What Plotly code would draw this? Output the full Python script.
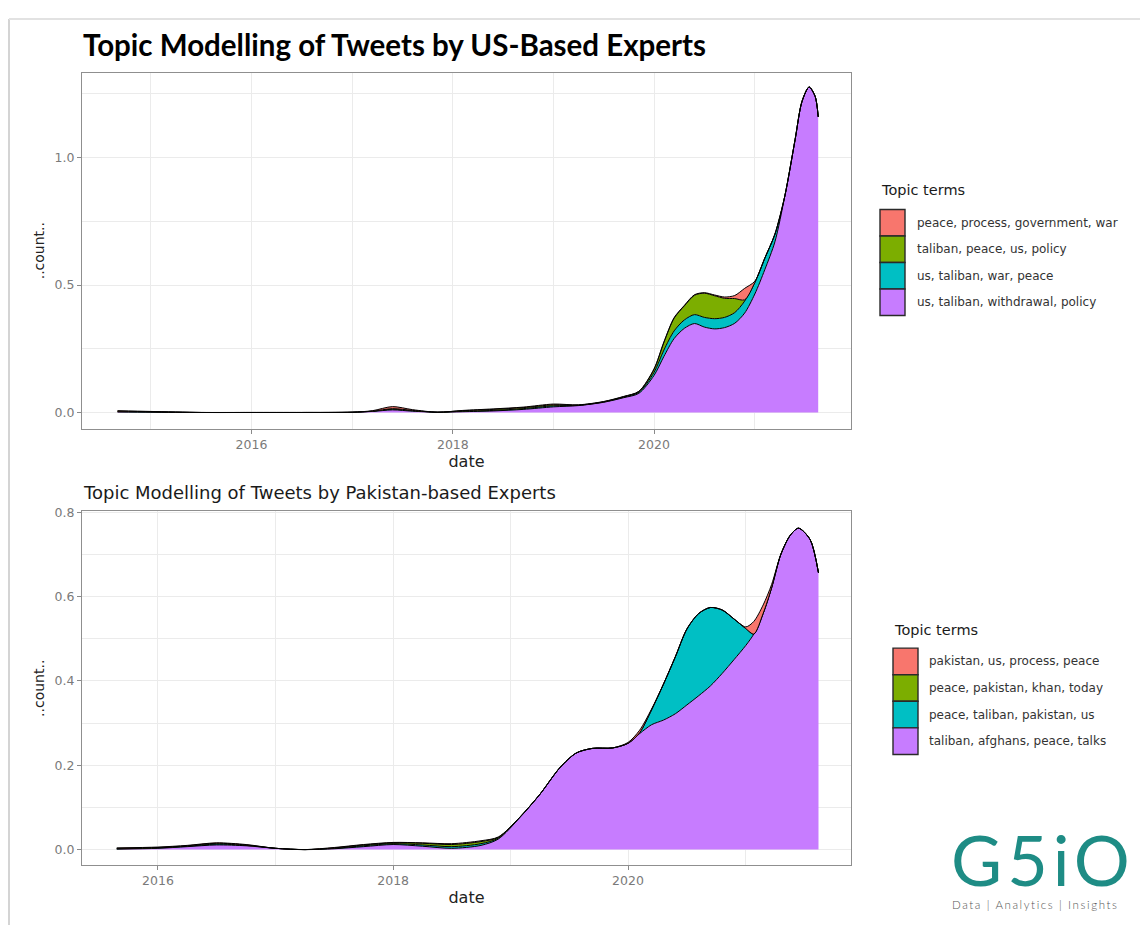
import plotly.graph_objects as go

# ---------------- data ----------------
us_dates = ["2014-09-02", "2015-01-01", "2015-07-02", "2016-01-01", "2016-07-01", "2017-01-01",
            "2017-03-15", "2017-05-27", "2017-08-08", "2017-11-07", "2018-02-06", "2018-05-27",
            "2018-09-13", "2019-01-01", "2019-04-02", "2019-07-02", "2019-09-13", "2019-11-07",
            "2020-01-01", "2020-02-06", "2020-03-14", "2020-04-20", "2020-05-27", "2020-07-02",
            "2020-08-08", "2020-09-13", "2020-10-20", "2020-11-25", "2021-01-01", "2021-02-06",
            "2021-03-15", "2021-04-20", "2021-05-27", "2021-06-21", "2021-07-17", "2021-08-08",
            "2021-08-19"]
us_terms = ["peace, process, government, war", "taliban, peace, us, policy",
            "us, taliban, war, peace", "us, taliban, withdrawal, policy"]
us_peace_process = [0.002, 0.001, 0, 0, 0, 0, 0.002, 0.008, 0.003, 0, 0.001, 0.002,
                    0.002, 0.003, 0.001, 0.001, 0.001, 0.001, 0.002, 0.002, 0.002, 0.002, 0.002, 0.002,
                    0.003, 0.005, 0.012, 0.045, 0.005, 0, 0, 0, 0, 0, 0, 0, 0]
us_taliban_peace = [0.002, 0.001, 0, 0, 0, 0, 0, 0.002, 0.001, 0, 0.002, 0.004,
                    0.004, 0.004, 0.001, 0.001, 0.002, 0.003, 0.012, 0.03, 0.05, 0.055, 0.076, 0.095,
                    0.09, 0.075, 0.055, 0.005, 0, 0, 0, 0, 0, 0, 0, 0, 0]
us_us_taliban_war = [0.001, 0.001, 0, 0, 0, 0, 0.001, 0.003, 0.002, 0, 0.002, 0.002,
                     0.003, 0.004, 0.001, 0.001, 0.002, 0.004, 0.012, 0.025, 0.03, 0.033, 0.035, 0.038,
                     0.04, 0.04, 0.042, 0.047, 0.045, 0.045, 0.03, 0, 0, 0, 0, 0, 0]
us_withdrawal = [0.002, 0.001, 0.0, 0.0, 0.0, 0.001, 0.004, 0.01, 0.005, 0.001, 0.003, 0.006,
                 0.012, 0.022, 0.027, 0.04, 0.058, 0.075, 0.145, 0.22, 0.29, 0.33, 0.349, 0.335,
                 0.328, 0.333, 0.35, 0.39, 0.465, 0.56, 0.67, 0.85, 1.07, 1.22, 1.277, 1.24,
                 1.16]

pk_dates = ["2015-08-26", "2016-01-01", "2016-04-01", "2016-07-01", "2016-10-01", "2017-01-01",
            "2017-04-02", "2017-07-02", "2017-10-01", "2018-01-01", "2018-04-02", "2018-07-02",
            "2018-10-01", "2018-11-24", "2019-01-30", "2019-04-02", "2019-06-03", "2019-07-24",
            "2019-09-13", "2019-11-14", "2020-01-01", "2020-02-06", "2020-03-14", "2020-04-20",
            "2020-05-27", "2020-07-02", "2020-08-08", "2020-09-13", "2020-10-20", "2020-11-25",
            "2021-01-01", "2021-01-26", "2021-02-24", "2021-03-22", "2021-04-20", "2021-05-19",
            "2021-06-14", "2021-07-20", "2021-08-15"]
pk_terms = ["pakistan, us, process, peace", "peace, pakistan, khan, today",
            "peace, taliban, pakistan, us", "taliban, afghans, peace, talks"]
pk_pakistan_us = [0.001, 0.001, 0.001, 0.001, 0.001, 0.0, 0.0, 0.001, 0.001, 0.001, 0.001, 0.002,
                  0.002, 0.001, 0.0, 0, 0, 0, 0, 0, 0.002, 0.006, 0.002, 0,
                  0, 0, 0, 0, 0, 0, 0.004, 0.03, 0.02, 0.008, 0, 0, 0, 0, 0]
pk_khan_today = [0.001, 0.001, 0.001, 0.002, 0.001, 0.0, 0.0, 0.001, 0.002, 0.002, 0.004, 0.005,
                 0.005, 0.002, 0.0, 0, 0, 0, 0, 0, 0, 0, 0, 0,
                 0, 0, 0, 0, 0, 0, 0, 0, 0, 0, 0, 0, 0, 0, 0]
pk_taliban_pakistan = [0.001, 0.001, 0.001, 0.002, 0.001, 0.0, 0.0, 0.001, 0.002, 0.002, 0.003, 0.004,
                       0.004, 0.002, 0.001, 0, 0, 0, 0, 0, 0, 0.002, 0.035, 0.085,
                       0.135, 0.18, 0.195, 0.186, 0.15, 0.097, 0.04, 0, 0, 0, 0, 0, 0, 0, 0]
pk_afghans_talks = [0.001, 0.003, 0.007, 0.011, 0.009, 0.003, 0.0, 0.002, 0.007, 0.012, 0.008, 0.003,
                    0.01, 0.025, 0.076, 0.131, 0.194, 0.229, 0.24, 0.241, 0.252, 0.275, 0.296, 0.307,
                    0.322, 0.343, 0.365, 0.388, 0.418, 0.45, 0.484, 0.511, 0.56, 0.62, 0.70, 0.745,
                    0.762, 0.735, 0.656]

colors = ["#F8766D", "#7CAE00", "#00BFC4", "#C77CFF"]
year_ticks = ["2016-01-01", "2018-01-01", "2020-01-01"]
year_labels = ["2016", "2018", "2020"]
us_minor_x = ["2015-01-01", "2017-01-01", "2019-01-01", "2021-01-01"]
pk_minor_x = ["2017-01-01", "2019-01-01", "2021-01-01"]
us_yticks = [0, 0.5, 1.0]
us_ylabels = ["0.0", "0.5", "1.0"]
us_yminor = [0.25, 0.75, 1.25]
pk_yticks = [0, 0.2, 0.4, 0.6, 0.8]
pk_ylabels = ["0.0", "0.2", "0.4", "0.6", "0.8"]
pk_yminor = [0.1, 0.3, 0.5, 0.7]

# ---------------- figure ----------------
W, H = 1140, 925


def px(x):
    return x / W


def py(y):
    return 1 - y / H


fig = go.Figure()

us_series = [us_peace_process, us_taliban_peace, us_us_taliban_war, us_withdrawal]
pk_series = [pk_pakistan_us, pk_khan_today, pk_taliban_pakistan, pk_afghans_talks]

for i in range(3, -1, -1):
    fig.add_trace(go.Scatter(
        x=us_dates, y=us_series[i], name=us_terms[i], stackgroup="us", mode="lines",
        line=dict(color="black", width=1, shape="spline", smoothing=0.8),
        fillcolor=colors[i], showlegend=False, hoverinfo="skip", xaxis="x", yaxis="y"))
for i in range(3, -1, -1):
    fig.add_trace(go.Scatter(
        x=pk_dates, y=pk_series[i], name=pk_terms[i], stackgroup="pk", mode="lines",
        line=dict(color="black", width=1, shape="spline", smoothing=0.8),
        fillcolor=colors[i], showlegend=False, hoverinfo="skip", xaxis="x2", yaxis="y2"))

FONT = "DejaVu Sans"
GRID = "#ebebeb"
axis_common = dict(
    showgrid=True, gridcolor=GRID, gridwidth=1.2, zeroline=False,
    showline=True, mirror=True, linecolor="#8f8f8f", linewidth=1,
    ticks="outside", ticklen=4, tickwidth=1, tickcolor="#8a8a8a",
    tickfont=dict(family=FONT, size=12.5, color="#7a7a7a"),
)

fig.update_layout(
    width=W, height=H, margin=dict(l=0, r=0, t=0, b=0),
    paper_bgcolor="white", plot_bgcolor="white",
    xaxis=dict(domain=[px(82), px(851)], anchor="y", type="date",
               range=["2014-04-26", "2021-12-16"],
               tickmode="array", tickvals=year_ticks, ticktext=year_labels,
               minor=dict(tickmode="array", tickvals=us_minor_x, showgrid=True,
                          gridcolor=GRID, gridwidth=0.6, ticks=""),
               title=dict(text="date", font=dict(family=FONT, size=16, color="#222"), standoff=4),
               **axis_common),
    yaxis=dict(domain=[py(425), py(66)], anchor="x", range=[-0.064, 1.334],
               tickmode="array", tickvals=us_yticks, ticktext=us_ylabels,
               minor=dict(tickmode="array", tickvals=us_yminor, showgrid=True,
                          gridcolor=GRID, gridwidth=0.6, ticks=""),
               title=dict(text="..count..", font=dict(family=FONT, size=14, color="#222"), standoff=6),
               **axis_common),
    xaxis2=dict(domain=[px(82), px(851)], anchor="y2", type="date",
                range=["2015-05-10", "2021-11-24"],
                tickmode="array", tickvals=year_ticks, ticktext=year_labels,
                minor=dict(tickmode="array", tickvals=pk_minor_x, showgrid=True,
                           gridcolor=GRID, gridwidth=0.6, ticks=""),
                title=dict(text="date", font=dict(family=FONT, size=16, color="#222"), standoff=4),
                **axis_common),
    yaxis2=dict(domain=[py(865), py(508)], anchor="x2", range=[-0.0376, 0.8024],
                tickmode="array", tickvals=pk_yticks, ticktext=pk_ylabels,
                minor=dict(tickmode="array", tickvals=pk_yminor, showgrid=True,
                           gridcolor=GRID, gridwidth=0.6, ticks=""),
                title=dict(text="..count..", font=dict(family=FONT, size=14, color="#222"), standoff=6),
                **axis_common),
)

annotations = []
shapes = []

# titles
annotations.append(dict(
    x=px(81), y=py(38), xref="paper", yref="paper", xanchor="left", yanchor="middle",
    text="<b>Topic Modelling of Tweets by US-Based Experts</b>", showarrow=False,
    font=dict(family="Lato", size=29.5, color="black")))
annotations.append(dict(
    x=px(81), y=py(489), xref="paper", yref="paper", xanchor="left", yanchor="middle",
    text="Topic Modelling of Tweets by Pakistan-based Experts", showarrow=False,
    font=dict(family=FONT, size=18, color="#1a1a1a")))


def add_legend(title_x, title_y, key_x, key_top, key_w, key_h, text_x, terms):
    annotations.append(dict(
        x=px(title_x), y=py(title_y), xref="paper", yref="paper", xanchor="left", yanchor="middle",
        text="Topic terms", showarrow=False, font=dict(family=FONT, size=14.5, color="#1a1a1a")))
    for k, term in enumerate(terms):
        y0 = key_top + k * key_h
        shapes.append(dict(
            type="rect", xref="paper", yref="paper",
            x0=px(key_x), x1=px(key_x + key_w), y0=py(y0), y1=py(y0 + key_h),
            fillcolor=colors[k], line=dict(color="#2a2a2a", width=1.4)))
        annotations.append(dict(
            x=px(text_x), y=py(y0 + key_h / 2), xref="paper", yref="paper",
            xanchor="left", yanchor="middle", text=term, showarrow=False,
            font=dict(family=FONT, size=12, color="#333")))


add_legend(879, 184, 880, 204, 25, 26.7, 915, us_terms)
add_legend(892, 628, 893, 646, 25, 26.8, 927, pk_terms)

# logo
annotations.append(dict(
    x=px(949), y=py(859), xref="paper", yref="paper", xanchor="left", yanchor="middle",
    text='<span style="letter-spacing:5px">G5iO</span>', showarrow=False,
    font=dict(family="Lato", size=70, color="#1e8c85")))
annotations.append(dict(
    x=px(950), y=py(904), xref="paper", yref="paper", xanchor="left", yanchor="middle",
    text='<span style="letter-spacing:1.6px">Data | Analytics | Insights</span>', showarrow=False,
    font=dict(family="Lato", size=11.5, color="#555555", weight=300)))

# page frame
shapes.append(dict(type="line", xref="paper", yref="paper", x0=px(9), x1=px(9),
                   y0=py(12), y1=0, line=dict(color="#d4d4d4", width=2)))
shapes.append(dict(type="line", xref="paper", yref="paper", x0=px(9), x1=1,
                   y0=py(12), y1=py(12), line=dict(color="#e2e2e2", width=2)))

fig.update_layout(annotations=annotations, shapes=shapes)
fig.write_html("out.html")
